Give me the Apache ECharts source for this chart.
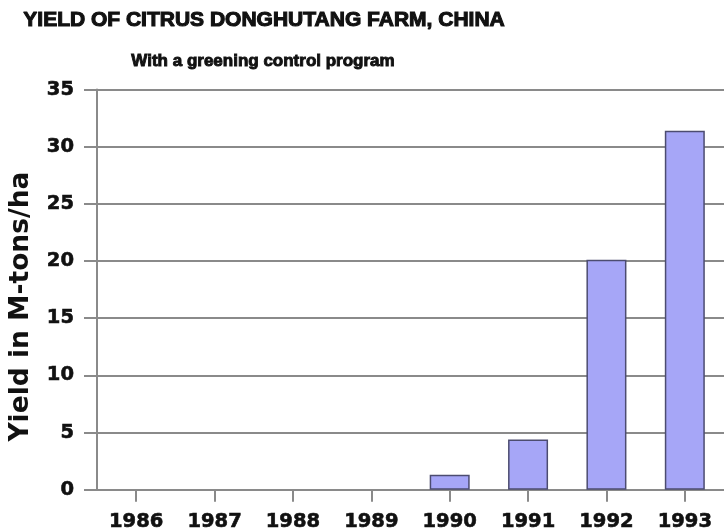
<!DOCTYPE html>
<html>
<head>
<meta charset="utf-8">
<script src="https://cdn.jsdelivr.net/npm/echarts@6/dist/echarts.min.js"></script>
<style>
  html, body { margin: 0; padding: 0; background: #fff; }
  #chart { width: 724px; height: 532px; }
</style>
</head>
<body>
<div id="chart"></div>
<script>
// Citrus yield per year, M-tons/ha
const years = ['1986', '1987', '1988', '1989', '1990', '1991', '1992', '1993'];
const yieldValues = [0, 0, 0, 0, 1.3, 4.4, 20.1, 31.4];
const yTicks = { min: 0, max: 35, interval: 5 };

const titleText = 'YIELD OF CITRUS DONGHUTANG FARM, CHINA';
const subtitleText = 'With a greening control program';
const yAxisTitle = 'Yield in M-tons/ha';

const chart = echarts.init(document.getElementById('chart'), null, { renderer: 'canvas' });

const lineGray = '#8a8a8a';
const ink = '#111111';
const heavyFont = '"DejaVu Sans", sans-serif';
const titleFont = '"Liberation Sans", Arial, sans-serif';

// Empty years get no outline, so nothing is drawn on the baseline for them
const barData = yieldValues.map(v => (v === 0
  ? { value: v, itemStyle: { borderWidth: 0, opacity: 0 } }
  : v));

chart.setOption({
  animation: false,
  backgroundColor: '#ffffff',
  title: [
    {
      text: titleText,
      left: 264,
      top: 10,
      textAlign: 'center',
      padding: 0,
      textStyle: {
        fontFamily: titleFont, fontWeight: 'bold', fontSize: 21, color: ink,
        textBorderColor: ink, textBorderWidth: 1.1
      }
    },
    {
      text: subtitleText,
      left: 263,
      top: 53,
      textAlign: 'center',
      padding: 0,
      textStyle: {
        fontFamily: titleFont, fontWeight: 'bold', fontSize: 17, color: ink,
        textBorderColor: ink, textBorderWidth: 0.9
      }
    }
  ],
  grid: { left: 96, top: 89.5, width: 637.6, height: 402.2, containLabel: false },
  xAxis: {
    type: 'category',
    data: years,
    axisLine: { show: true, lineStyle: { color: lineGray, width: 2 } },
    axisTick: { show: true, alignWithLabel: true, length: 12, lineStyle: { color: lineGray, width: 2 } },
    axisLabel: {
      margin: 22, fontFamily: heavyFont, fontWeight: 'bold', fontSize: 19.5, color: ink,
      textBorderColor: ink, textBorderWidth: 0.6
    },
    splitLine: { show: false }
  },
  yAxis: {
    type: 'value',
    min: yTicks.min,
    max: yTicks.max,
    interval: yTicks.interval,
    name: yAxisTitle,
    nameLocation: 'middle',
    nameGap: 62,
    nameRotate: 90,
    nameTextStyle: {
      fontFamily: heavyFont, fontWeight: 'bold', fontSize: 26.5, color: ink,
      padding: [0, 34, 0, 0]
    },
    axisLine: { show: true, lineStyle: { color: lineGray, width: 2 } },
    axisTick: { show: true, inside: false, length: 13, lineStyle: { color: lineGray, width: 2 } },
    axisLabel: {
      margin: 23, fontFamily: heavyFont, fontWeight: 'bold', fontSize: 19.5, color: ink,
      textBorderColor: ink, textBorderWidth: 0.6
    },
    splitLine: { show: true, lineStyle: { color: lineGray, width: 2 } }
  },
  series: [
    {
      type: 'bar',
      data: barData,
      barWidth: 40,
      itemStyle: { color: '#a6a6f7', borderColor: '#4c4c70', borderWidth: 1.5 },
      z: 3
    }
  ]
});
</script>
</body>
</html>
